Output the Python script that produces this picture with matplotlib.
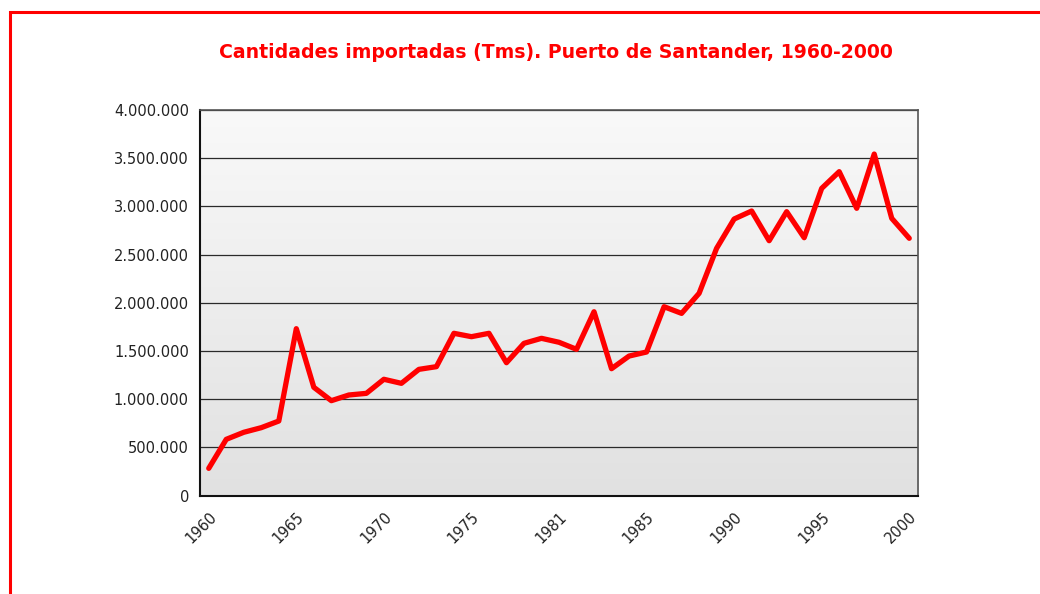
import matplotlib.pyplot as plt
import numpy as np
from matplotlib.ticker import FuncFormatter
from matplotlib.patches import Rectangle

# Toneladas importadas por año (41 categorías, etiqueta cada 5)
toneladas = [282000, 583000, 656000, 704000, 773000, 1731000, 1123000, 984000,
             1043000, 1060000, 1206000, 1164000, 1309000, 1337000, 1683000,
             1648000, 1683000, 1378000, 1579000, 1631000, 1590000, 1517000,
             1907000, 1316000, 1447000, 1489000, 1959000, 1890000, 2098000,
             2565000, 2869000, 2952000, 2644000, 2945000, 2675000, 3187000,
             3360000, 2980000, 3543000, 2876000, 2669000]
etiquetas = ['1960', '1965', '1970', '1975', '1981', '1985', '1990', '1995', '2000']
pos_etiquetas = [0, 5, 10, 15, 20, 25, 30, 35, 40]

titulo = 'Cantidades importadas (Tms). Puerto de Santander, 1960-2000'

fig = plt.figure(figsize=(10.4, 5.94), dpi=100)

# marco rojo (cortado a la derecha y abajo)
fig.patches.append(Rectangle((10 / 1040, -0.1), 1.2, 1 - 12 / 594 + 0.1,
                             transform=fig.transFigure, fill=False,
                             edgecolor='#ff0000', linewidth=2.2))

ax = fig.add_axes([0.1923, 0.1658, 0.6904, 0.649])

# fondo degradado
grad = np.linspace(0, 1, 256).reshape(-1, 1)
ax.imshow(grad, extent=[0, 1, 0, 1], transform=ax.transAxes, aspect='auto',
          cmap=plt.matplotlib.colors.LinearSegmentedColormap.from_list(
              'g', ['#f9f9f9', '#e1e1e1']), zorder=0)

x = np.arange(len(toneladas))
ax.plot(x, toneladas, color='#ff0000', linewidth=3.8,
        solid_joinstyle='round', solid_capstyle='round', zorder=3)

ax.set_xlim(-0.5, len(toneladas) - 0.5)
ax.set_ylim(0, 4000000)
ax.set_yticks(np.arange(0, 4000001, 500000))
ax.yaxis.set_major_formatter(FuncFormatter(lambda v, p: f'{int(v):,}'.replace(',', '.')))
ax.grid(axis='y', color='#2a2a2a', linewidth=0.9, zorder=1)
ax.set_axisbelow(True)

ax.set_xticks(pos_etiquetas)
ax.set_xticklabels(etiquetas, rotation=45, ha='right', rotation_mode='anchor')
ax.tick_params(length=0, labelsize=10.5, colors='#222222')
ax.tick_params(axis='x', pad=10)
ax.tick_params(axis='y', pad=8)

for s in ['left', 'bottom']:
    ax.spines[s].set_color('#111111')
    ax.spines[s].set_linewidth(1.5)
for s in ['top', 'right']:
    ax.spines[s].set_color('#555555')
    ax.spines[s].set_linewidth(1.2)

fig.text(556 / 1040, 1 - 53 / 594, titulo, ha='center', va='center',
         color='#ff0000', fontsize=13.6, fontweight='bold')

fig.savefig('out.png', dpi=100)
